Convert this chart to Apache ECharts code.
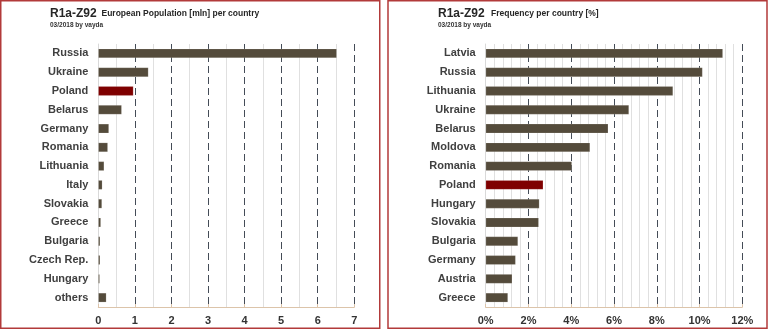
<!DOCTYPE html>
<html><head><meta charset="utf-8">
<script src="https://cdn.jsdelivr.net/npm/echarts@6/dist/echarts.min.js"></script>
<style>html,body{margin:0;padding:0;background:#fff}#c{width:768px;height:329px}</style>
</head><body><div id="c"></div>
<script>
// ---- data ----
const popCategories = ['Russia','Ukraine','Poland','Belarus','Germany','Romania','Lithuania','Italy','Slovakia','Greece','Bulgaria','Czech Rep.','Hungary','others'];
const popValues = [6.52, 1.37, 0.96, 0.64, 0.29, 0.26, 0.16, 0.11, 0.10, 0.07, 0.05, 0.05, 0.04, 0.22];
const popTicks = ['0','1','2','3','4','5','6','7'];
const freqCategories = ['Latvia','Russia','Lithuania','Ukraine','Belarus','Moldova','Romania','Poland','Hungary','Slovakia','Bulgaria','Germany','Austria','Greece'];
const freqValues = [11.09, 10.14, 8.76, 6.70, 5.73, 4.88, 4.03, 2.69, 2.51, 2.48, 1.51, 1.40, 1.24, 1.04];
const freqTicks = ['0%','2%','4%','6%','8%','10%','12%'];
const highlight = 'Poland';
const titleMain = 'R1a-Z92';
const leftSub = 'European Population [mln] per country';
const rightSub = 'Frequency per country [%]';
const credit = '03/2018 by vayda';

const BAR = '#544b3b', RED = '#7f0000';
const FONT = '"Liberation Sans", Arial, sans-serif';
function items(cats, vals){
  return vals.map((v,i)=>({value:v, itemStyle:{color: cats[i]===highlight?RED:BAR}}));
}
function xAxis(gi, max, interval, minorSplit, ticks){
  return {
    type:'value', gridIndex:gi, min:0, max:max, interval:interval,
    axisLine:{show:true, lineStyle:{color:'#dcc4aa', width:1}},
    axisTick:{show:true, inside:true, length:3, lineStyle:{color:'#dcc4aa'}},
    axisLabel:{color:'#333', fontFamily:FONT, fontWeight:'bold', fontSize:11, margin:8,
      formatter:(v)=>ticks[Math.round(v/interval)]},
    splitLine:{show:true, showMinLine:false, lineStyle:{color:'#444c57', type:[7,4], width:1}},
    minorTick:{show:false, splitNumber:minorSplit},
    minorSplitLine:{show:true, lineStyle:{color:'#e0e0e0', width:1}}
  };
}
function yAxis(gi, cats){
  return {
    type:'category', gridIndex:gi, data:cats, inverse:true,
    axisLine:{show:true, lineStyle:{color:'#d9d9d9'}},
    axisTick:{show:false},
    axisLabel:{color:'#404040', fontFamily:FONT, fontWeight:'bold', fontSize:11, margin:10}
  };
}
function t(text, left, top, size, color){
  return {text:text, left:left, top:top, padding:0, textStyle:{fontFamily:FONT, fontWeight:'bold', fontSize:size, color:color}};
}
const chart = echarts.init(document.getElementById('c'), null, {renderer:'canvas'});
chart.setOption({
  animation:false,
  backgroundColor:'#fff',
  title:[
    t(titleMain, 50, 8, 12, '#262626'),
    t(leftSub, 101.5, 9.5, 8.5, '#262626'),
    t(credit, 50, 21.5, 6.5, '#333'),
    t(titleMain, 438, 8, 12, '#262626'),
    t(rightSub, 491, 9.5, 8.5, '#262626'),
    t(credit, 438, 21.5, 6.5, '#333')
  ],
  grid:[
    {left:98.3, right:413.7, top:44, bottom:22},
    {left:485.7, right:25.7, top:44, bottom:22}
  ],
  xAxis:[
    xAxis(0, 7, 1, 2, popTicks),
    xAxis(1, 12, 2, 5, freqTicks)
  ],
  yAxis:[yAxis(0, popCategories), yAxis(1, freqCategories)],
  series:[
    {type:'bar', xAxisIndex:0, yAxisIndex:0, data:items(popCategories, popValues), barWidth:'50%',
      itemStyle:{borderColor:'rgba(255,255,255,0.3)', borderWidth:0.5}},
    {type:'bar', xAxisIndex:1, yAxisIndex:1, data:items(freqCategories, freqValues), barWidth:'50%',
      itemStyle:{borderColor:'rgba(255,255,255,0.3)', borderWidth:0.5}}
  ],
  graphic:[
    {type:'rect', shape:{x:0.75, y:0.75, width:379, height:327.5}, style:{fill:null, stroke:'#b23a3a', lineWidth:1.5}, silent:true},
    {type:'rect', shape:{x:388, y:0.75, width:379, height:327.5}, style:{fill:null, stroke:'#b23a3a', lineWidth:1.5}, silent:true}
  ]
});
</script></body></html>
